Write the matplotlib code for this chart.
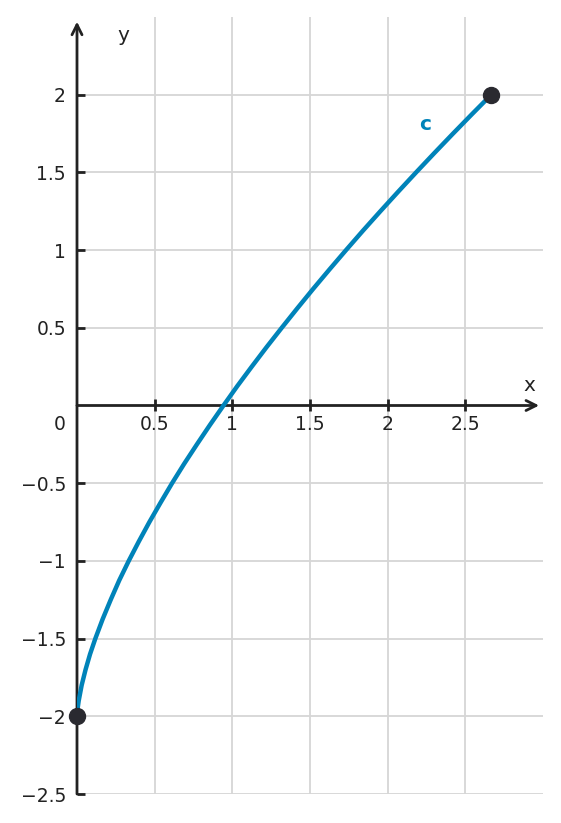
import matplotlib.pyplot as plt

# points (x, y)
curve_x = [0, 0.004, 0.011, 0.030, 0.055, 0.084, 0.118, 0.165, 0.217, 0.272, 0.333,
           0.398, 0.466, 0.538, 0.612, 0.690, 0.772, 0.856, 0.943, 1.032, 1.125,
           1.220, 1.318, 1.418, 1.520, 1.625, 1.732, 1.841, 1.953, 2.067, 2.183,
           2.301, 2.421, 2.543, 2.667]
curve_y = [-2, -1.95, -1.9, -1.8, -1.7, -1.6, -1.5, -1.375, -1.25, -1.125, -1,
           -0.875, -0.75, -0.625, -0.5, -0.375, -0.25, -0.125, 0, 0.125, 0.25,
           0.375, 0.5, 0.625, 0.75, 0.875, 1, 1.125, 1.25, 1.375, 1.5,
           1.625, 1.75, 1.875, 2]
end_x = [0, 2.667]
end_y = [-2, 2]

x_ticks = [0.5, 1, 1.5, 2, 2.5]
y_ticks = [-2.5, -2, -1.5, -1, -0.5, 0.5, 1, 1.5, 2]
x_grid = [0.5, 1, 1.5, 2, 2.5]
y_grid = [-2.5, -2, -1.5, -1, -0.5, 0.5, 1, 1.5, 2]

blue = '#0083b9'
dark = '#222222'

fig = plt.figure(figsize=(5.61, 8.23), dpi=100)
ax = fig.add_axes([77 / 561, 29 / 823, 466 / 561, 777 / 823])
ax.set_xlim(0, 3)
ax.set_ylim(-2.5, 2.5)

for gx in x_grid:
    ax.axvline(gx, color='#d6d6d6', lw=1.3, zorder=0)
for gy in y_grid:
    ax.axhline(gy, color='#d6d6d6', lw=1.3, zorder=0)

for s in ['top', 'right']:
    ax.spines[s].set_visible(False)
ax.spines['left'].set_position('zero')
ax.spines['bottom'].set_position('zero')
ax.spines['left'].set_color('none')
ax.spines['bottom'].set_color('none')

ax.annotate('', xy=(2.975, 0), xytext=(0, 0),
            arrowprops=dict(arrowstyle='->', lw=2, color=dark, mutation_scale=18,
                            shrinkA=0, shrinkB=0), annotation_clip=False)
ax.annotate('', xy=(0, 2.47), xytext=(0, -2.5),
            arrowprops=dict(arrowstyle='->', lw=2, color=dark, mutation_scale=18,
                            shrinkA=0, shrinkB=0), annotation_clip=False)

ax.set_xticks(x_ticks)
ax.set_xticklabels([str(v) for v in x_ticks])
ax.set_yticks(y_ticks)
ax.set_yticklabels([str(v).replace('-', '\u2212') for v in y_ticks])
ax.tick_params(axis='x', direction='inout', length=8, width=2, color=dark,
               labelsize=13.5, labelcolor=dark, pad=3)
ax.tick_params(axis='y', direction='in', length=6, width=2, color=dark,
               labelsize=13.5, labelcolor=dark, pad=8)

ax.plot(curve_x, curve_y, color=blue, lw=3.2, zorder=3, solid_capstyle='round')
ax.plot(end_x, end_y, 'o', color='#2a2a30', ms=11.5, zorder=4, clip_on=False)

ax.text(-0.11, -0.12, '0', fontsize=13.5, color=dark, ha='center', va='center')
ax.text(2.91, 0.13, 'x', fontsize=14.5, color=dark, ha='center', va='center')
ax.text(0.30, 2.38, 'y', fontsize=14.5, color=dark, ha='center', va='center')
ax.text(2.24, 1.81, 'c', fontsize=14.5, color=blue, fontweight='bold',
        ha='center', va='center')

fig.savefig('out.png', dpi=100)
